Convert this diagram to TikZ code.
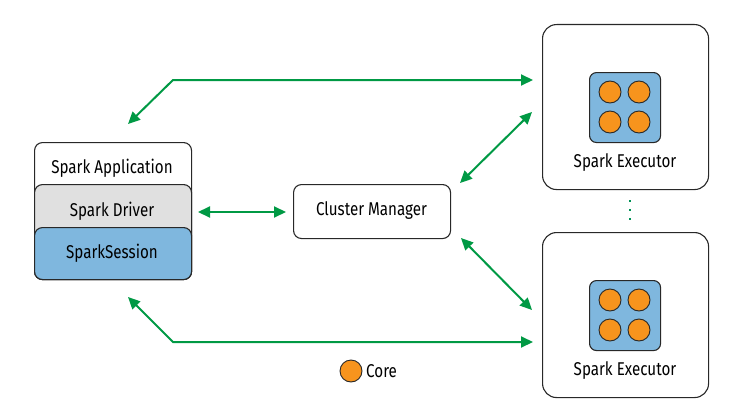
\documentclass[tikz,border=0pt]{standalone}
\usepackage{fontspec}
\setmainfont{Fira Sans}[FakeStretch=0.82]
\usetikzlibrary{arrows.meta}
\definecolor{sgreen}{RGB}{0,153,68}
\definecolor{sblue}{RGB}{127,183,222}
\definecolor{sgray}{RGB}{224,224,224}
\definecolor{sorange}{RGB}{247,148,29}
\definecolor{sline}{RGB}{40,40,40}
\begin{document}
\begin{tikzpicture}[x=1pt,y=-1pt,
  box/.style={draw=sline,line width=1.1pt,rounded corners=8pt,rectangle,inner sep=0pt,anchor=north west},
  lbl/.style={font=\fontsize{18.5}{21}\selectfont,text=black,inner sep=0pt},
  core/.style={circle,draw=sline,line width=0.9pt,fill=sorange,minimum size=22pt,inner sep=0pt},
  link/.style={draw=sgreen,line width=2pt,{Triangle[length=12pt,width=11pt]}-{Triangle[length=12pt,width=11pt]}}]
\useasboundingbox (0,0) rectangle (730,412);
% Spark application stack
\node[box,fill=white,minimum width=157pt,minimum height=137pt] (app) at (34,142) {};
\node[box,fill=sgray,minimum width=157pt,minimum height=95pt] (drv) at (34,184) {};
\node[box,fill=sblue,minimum width=157pt,minimum height=52pt] (sess) at (34,227) {};
\node[lbl] (tapp) at (112,168) {Spark Application};
\node[lbl] (tdrv) at (112,211) {Spark Driver};
\node[lbl] (tsess) at (112,253) {SparkSession};
% Cluster manager
\node[box,fill=white,minimum width=157pt,minimum height=54pt] (cm) at (293,184) {};
\node[lbl] (tcm) at (371.5,211) {Cluster Manager};
% Executors
\foreach \n/\y in {exa/24,exb/232}{
  \node[box,fill=white,rounded corners=14pt,minimum width=166pt,minimum height=165pt] (\n) at (542,\y) {};
  \node[box,fill=sblue,rounded corners=7pt,minimum width=71pt,minimum height=70pt] (\n sq) at (589,\y+48) {};
  \node[core] (\n c1) at (610,\y+68) {};
  \node[core] (\n c2) at (639,\y+68) {};
  \node[core] (\n c3) at (610,\y+98) {};
  \node[core] (\n c4) at (639,\y+98) {};
  \node[lbl] (\n t) at (625,\y+139) {Spark Executor};
}
% dots
\foreach \y [count=\i] in {201,210,219}{
  \node[fill=sgreen!70!teal,minimum size=2.2pt,inner sep=0pt] (dot\i) at (630,\y) {};
}
% legend
\node[core] (lcore) at (351,371) {};
\node[lbl,anchor=west] (tcore) at (366,371) {Core};
% connector end points
\coordinate (p1a) at (128,124);
\coordinate (p1b) at (173,80);
\coordinate (p1c) at (533,80);
\coordinate (p2a) at (198,212);
\coordinate (p2b) at (286,212);
\coordinate (p3a) at (460,183);
\coordinate (p3b) at (532,112);
\coordinate (p4a) at (461,238);
\coordinate (p4b) at (532,310);
\coordinate (p5a) at (128,297);
\coordinate (p5b) at (173,342);
\coordinate (p5c) at (533,342);
\draw[link] (p1a) -- (p1b) -- (p1c);
\draw[link] (p2a) -- (p2b);
\draw[link] (p3a) -- (p3b);
\draw[link] (p4a) -- (p4b);
\draw[link] (p5a) -- (p5b) -- (p5c);
\end{tikzpicture}
\end{document}
